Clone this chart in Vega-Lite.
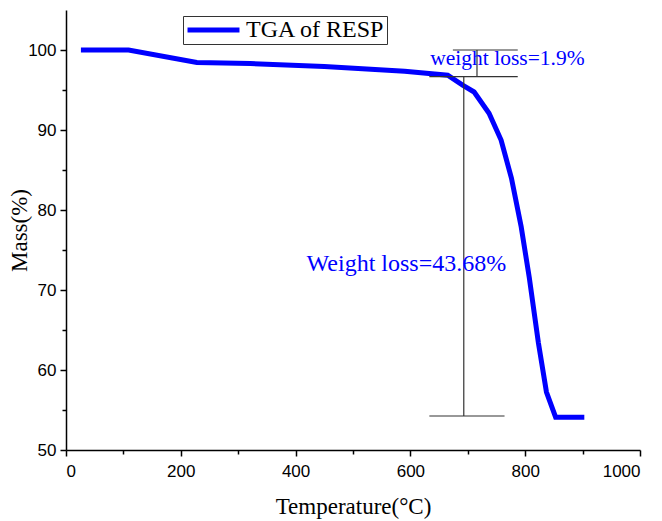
{
  "$schema": "https://vega.github.io/schema/vega-lite/v6.json",
  "width": 574,
  "height": 440,
  "autosize": {"type": "none"},
  "padding": {"left": 66, "top": 10, "right": 22, "bottom": 71},
  "background": "white",
  "config": {
    "view": {"stroke": null},
    "axis": {
      "domainColor": "black",
      "tickColor": "black",
      "grid": false,
      "labelFont": "Liberation Sans",
      "labelFontSize": 17,
      "labelColor": "black",
      "titleFont": "Liberation Serif",
      "titleFontSize": 23,
      "titleFontWeight": "normal",
      "titleColor": "black",
      "domainWidth": 1.5,
      "tickWidth": 1.5
    }
  },
  "resolve": {"axis": {"x": "independent", "y": "independent"}},
  "layer": [
    {
      "data": {"values": [{"t": 100}, {"t": 300}, {"t": 500}, {"t": 700}, {"t": 900}]},
      "mark": {"type": "point", "opacity": 0},
      "encoding": {
        "x": {"field": "t", "type": "quantitative", "scale": {"domain": [0, 1000], "nice": false},
              "axis": {"orient": "bottom", "values": [100, 300, 500, 700, 900], "labels": false, "tickSize": 4, "domain": false, "title": null}},
        "y": {"datum": 60, "type": "quantitative", "scale": {"domain": [50, 105], "nice": false},
              "axis": {"orient": "left", "values": [55, 65, 75, 85, 95], "labels": false, "tickSize": 4, "domain": false, "title": null}}
      }
    },
    {
      "data": {"values": [
        {"temp": 26, "mass": 100.0, "series": "TGA of RESP"},
        {"temp": 109, "mass": 100.0, "series": "TGA of RESP"},
        {"temp": 228, "mass": 98.45, "series": "TGA of RESP"},
        {"temp": 321, "mass": 98.3, "series": "TGA of RESP"},
        {"temp": 450, "mass": 97.95, "series": "TGA of RESP"},
        {"temp": 590, "mass": 97.35, "series": "TGA of RESP"},
        {"temp": 665, "mass": 96.85, "series": "TGA of RESP"},
        {"temp": 691, "mass": 95.6, "series": "TGA of RESP"},
        {"temp": 711, "mass": 94.75, "series": "TGA of RESP"},
        {"temp": 737, "mass": 92.1, "series": "TGA of RESP"},
        {"temp": 758, "mass": 88.75, "series": "TGA of RESP"},
        {"temp": 776, "mass": 84.0, "series": "TGA of RESP"},
        {"temp": 793, "mass": 77.9, "series": "TGA of RESP"},
        {"temp": 807, "mass": 71.6, "series": "TGA of RESP"},
        {"temp": 823, "mass": 63.4, "series": "TGA of RESP"},
        {"temp": 837, "mass": 57.25, "series": "TGA of RESP"},
        {"temp": 853, "mass": 54.1, "series": "TGA of RESP"},
        {"temp": 903, "mass": 54.1, "series": "TGA of RESP"}
      ]},
      "mark": {"type": "line", "strokeWidth": 5, "strokeJoin": "miter"},
      "encoding": {
        "x": {"field": "temp", "type": "quantitative", "scale": {"domain": [0, 1000], "nice": false},
              "axis": {"orient": "bottom", "values": [0, 200, 400, 600, 800, 1000], "format": "d", "tickSize": 6, "labelPadding": 7, "title": "Temperature(°C)", "titleY": 63, "titleBaseline": "alphabetic"}},
        "y": {"field": "mass", "type": "quantitative", "scale": {"domain": [50, 105], "nice": false},
              "axis": {"orient": "left", "values": [50, 60, 70, 80, 90, 100], "tickSize": 6, "labelPadding": 4, "title": "Mass(%)", "titlePadding": -4}},
        "color": {"field": "series", "type": "nominal", "scale": {"domain": ["TGA of RESP"], "range": ["#0000ff"]},
                  "legend": {"orient": "none", "legendX": 117, "legendY": 6, "title": null, "symbolType": "stroke",
                             "symbolStrokeWidth": 5, "symbolSize": 2700, "clipHeight": 24, "labelFont": "Liberation Serif", "labelFontSize": 24,
                             "labelColor": "black", "strokeColor": "#333", "padding": 2, "fillColor": "white"}}
      }
    },
    {
      "data": {"values": [
        {"x": 693, "y": 96.66, "y2": 54.25},
        {"x": 716, "y": 100.0, "y2": 96.66}
      ]},
      "mark": {"type": "rule", "color": "#333", "strokeWidth": 1.2},
      "encoding": {
        "x": {"field": "x", "type": "quantitative", "axis": null},
        "y": {"field": "y", "type": "quantitative", "axis": null},
        "y2": {"field": "y2"}
      }
    },
    {
      "data": {"values": [
        {"x": 633, "x2": 764, "y": 54.25},
        {"x": 633, "x2": 787, "y": 96.66},
        {"x": 674, "x2": 787, "y": 100.0}
      ]},
      "mark": {"type": "rule", "color": "#333", "strokeWidth": 1.2},
      "encoding": {
        "x": {"field": "x", "type": "quantitative", "axis": null},
        "x2": {"field": "x2"},
        "y": {"field": "y", "type": "quantitative", "axis": null}
      }
    },
    {
      "data": {"values": [
        {"x": 769, "y": 98.9, "label": "weight loss=1.9%", "size": 21.5},
        {"x": 593, "y": 73.2, "label": "Weight loss=43.68%", "size": 24}
      ]},
      "mark": {"type": "text", "font": "Liberation Serif", "color": "#0000ff", "align": "center", "baseline": "middle"},
      "encoding": {
        "x": {"field": "x", "type": "quantitative", "axis": null},
        "y": {"field": "y", "type": "quantitative", "axis": null},
        "text": {"field": "label"},
        "size": {"field": "size", "type": "quantitative", "scale": null}
      }
    }
  ]
}
